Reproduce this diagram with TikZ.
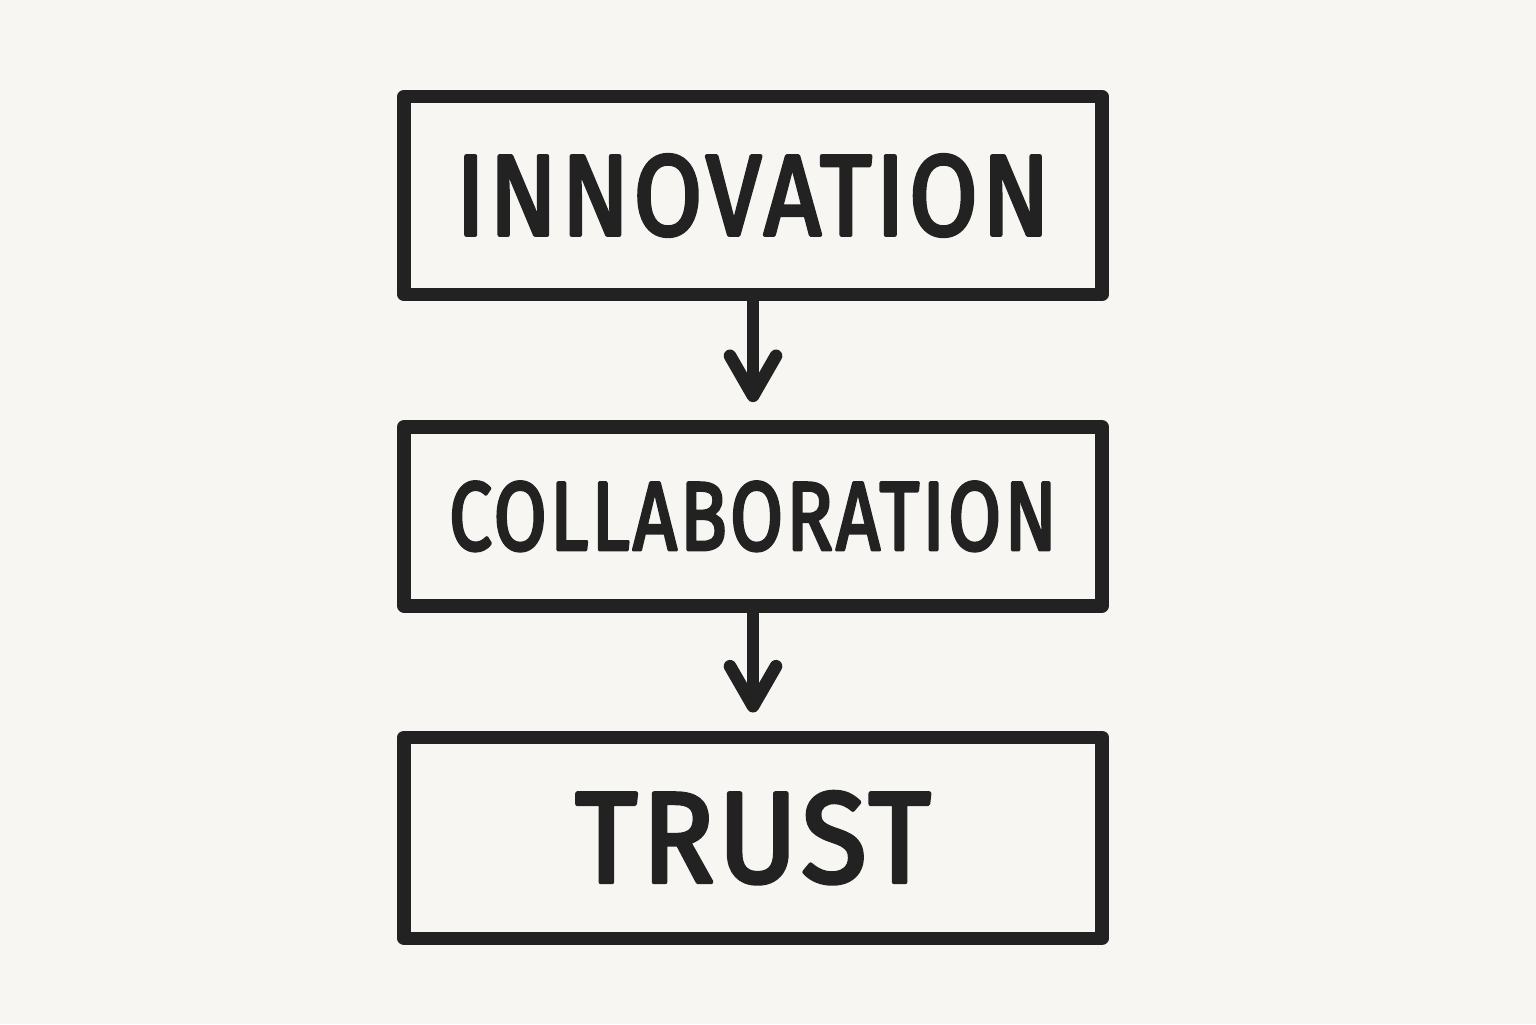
\documentclass[tikz,border=0pt]{standalone}
\usepackage{fontspec}
\newfontfamily\handfont{Fira Sans}[FakeBold=3.5, LetterSpace=4]
\usepackage{tikz}
\usetikzlibrary{arrows.meta, positioning}
\definecolor{paper}{RGB}{247,246,242}
\definecolor{ink}{RGB}{34,34,34}
\newcommand{\fittext}[3]{\resizebox{#1}{#2}{\handfont #3}}
\tikzset{%
  every path/.style={line width=3.8pt, draw=ink, line cap=round, line join=round},
    edge/.style={%
        -{Straight Barb[length=0.40cm, width=0.46cm, line width=3.6pt, round]},
        line width=3.6pt,
        shorten >=0.18cm,
    },
    stage/.style={%
        rectangle,
        draw=ink,
        line width=3.8pt,
        minimum width=6.98cm,
        inner sep=0pt,
        text=ink,
        text centered,
    },
}

\begin{document}
\begin{tikzpicture}
  \useasboundingbox[fill=paper, draw=none] (0,0) rectangle (15.36,10.24);

  \node [stage, minimum height=1.98cm] at (7.53, 8.285) (innovation) {\fittext{5.94cm}{0.80cm}{INNOVATION}};
  \node [stage, minimum height=1.79cm, below=1.19cm of innovation] (collaboration) {\fittext{6.08cm}{0.68cm}{COLLABORATION}};
  \node [stage, minimum height=2.01cm, below=1.18cm of collaboration] (trust) {\fittext{3.55cm}{0.90cm}{TRUST}};

  \draw[edge] (innovation.south) -- (collaboration.north);
  \draw[edge] (collaboration.south) -- (trust.north);
\end{tikzpicture}
\end{document}
